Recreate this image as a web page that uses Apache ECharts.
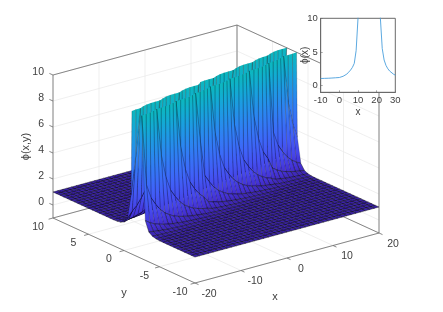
<!DOCTYPE html>
<html><head><meta charset="utf-8">
<style>html,body{margin:0;padding:0;background:#fff}#c{width:443px;height:312px}</style>
<script src="https://cdn.jsdelivr.net/npm/echarts@6/dist/echarts.min.js"></script>
</head><body><div id="c"></div>
<script>
// ---- data ----
const xTicks = [-20,-10,0,10,20];
const yTicks = [-10,-5,0,5,10];
const zTicks = [0,2,4,6,8,10];
// centre line of the ridge: y position for each x = -20 ... 20
const ridgeY = [-1.85,-1.74,-1.64,-1.53,-1.43,-1.32,-1.21,-1.11,-1.00,-0.90,-0.79,-0.68,-0.58,-0.47,-0.37,-0.26,-0.15,-0.05,0.06,0.16,0.27,0.38,0.48,0.59,0.69,0.80,0.91,1.01,1.12,1.22,1.33,1.44,1.54,1.65,1.75,1.86,1.97,2.07,2.18,2.28,2.39];
// phi height against distance from the ridge line, in steps of 0.1
const phiByOffset = [400,400,280,80,32,16,10,6.4,4.6,3.5,2.9,2.4,2.05,1.8,1.6,1.48,1.38,1.3,1.24,1.19,1.15,1.12,1.1,1.08,1.06,1.05,1.04,1.03,1.02,1.01,1.0];
const insetX = [-10,-8,-6,-4,-2,0,1,2,3,4,5,6,7,8,9,10,10.6,21.4,22,23,24,25,26,27,28,29,30];
const insetPhi = [1.05,1.07,1.09,1.12,1.16,1.2,1.28,1.38,1.5,1.7,2.0,2.3,2.7,3.3,5.2,10,14,14,10,5.5,3.8,3.0,2.5,2.15,1.9,1.7,1.55];

// ---- 3D view (orthographic, fitted to the box corners) ----
const P = (x,y,z)=>[53+(x+20)*4.6+(10-y)*7.1, 218-(x+20)*1.25+(10-y)*3.25-(z+1)*13];
const ZMIN=-1, ZMAX=10;
const TXT='#404040', FONT='"Liberation Sans",Arial,sans-serif';

// ---- surface table ----
const yGrid=[]; for(let j=0;j<=40;j++) yGrid.push(-10+j*0.5);
const xGrid=ridgeY.map((_,i)=>-20+i);
const Z=xGrid.map((_,i)=>yGrid.map(y=>{
  const k=Math.round(Math.abs(y-ridgeY[i])*10);
  return k<phiByOffset.length?phiByOffset[k]:phiByOffset[phiByOffset.length-1];
}));
// painter's order: far cells first
const cells=[];
for(let j=yGrid.length-2;j>=0;j--) for(let i=xGrid.length-2;i>=0;i--) cells.push([i,j]);

// colour map, by height
const cmap=[[1,'#3a22a6'],[1.5,'#4430d2'],[2.5,'#4648ee'],[4,'#4062f9'],[6,'#2f80f4'],[8,'#1a9fe0'],[9,'#10aed0'],[10,'#0cb8bd']];
function hex2(c){return [1,3,5].map(k=>parseInt(c.substr(k,2),16));}
function colorAt(z){
  const p=Math.max(cmap[0][0],Math.min(cmap[cmap.length-1][0],z));
  for(let k=1;k<cmap.length;k++) if(p<=cmap[k][0]){
    const t=(p-cmap[k-1][0])/(cmap[k][0]-cmap[k-1][0]);
    const a=hex2(cmap[k-1][1]),b=hex2(cmap[k][1]);
    return 'rgb('+a.map((v,n)=>Math.round(v+(b[n]-v)*t)).join(',')+')';
  }
  return cmap[cmap.length-1][1];
}
function clipPoly(pts){
  const out=[];
  for(let n=0;n<pts.length;n++){
    const a=pts[n],b=pts[(n+1)%pts.length];
    if(a[2]<=ZMAX) out.push(a);
    if((a[2]<=ZMAX)!==(b[2]<=ZMAX)){
      const t=(ZMAX-a[2])/(b[2]-a[2]);
      out.push([a[0]+(b[0]-a[0])*t,a[1]+(b[1]-a[1])*t,ZMAX]);
    }
  }
  return out;
}
function clipSeg(a,b){
  if(a[2]>ZMAX&&b[2]>ZMAX) return null;
  if(a[2]<=ZMAX&&b[2]<=ZMAX) return [a,b];
  const t=(ZMAX-a[2])/(b[2]-a[2]);
  const m=[a[0]+(b[0]-a[0])*t,a[1]+(b[1]-a[1])*t,ZMAX];
  return a[2]<=ZMAX?[a,m]:[m,b];
}
const EDGE={stroke:'#000',lineWidth:.45,opacity:.85};
const EDGE_STEEP={stroke:'#000',lineWidth:.4,opacity:.5};
function renderCell(params,api){
  const i=api.value(0),j=api.value(1);
  const q=[[xGrid[i],yGrid[j],Z[i][j]],[xGrid[i+1],yGrid[j],Z[i+1][j]],[xGrid[i+1],yGrid[j+1],Z[i+1][j+1]],[xGrid[i],yGrid[j+1],Z[i][j+1]]];
  const poly=clipPoly(q);
  if(poly.length<3) return null;
  const zs=poly.map(p=>p[2]);
  const lo=Math.min(...zs),hi=Math.max(...zs);
  const pp=poly.map(p=>P(p[0],p[1],p[2]));
  let fill=colorAt((lo+hi)/2);
  if(hi-lo>.3){
    const ylo=Math.max(...pp.map(p=>p[1])),yhi=Math.min(...pp.map(p=>p[1]));
    const stops=[];for(let s=0;s<=6;s++){stops.push({offset:s/6,color:colorAt(lo+(hi-lo)*s/6)});}
    fill=new echarts.graphic.LinearGradient(0,ylo,0,yhi,stops,true);
  }
  const children=[{type:'polygon',shape:{points:pp},style:{fill:fill,stroke:null}}];
  for(let n=0;n<4;n++){
    const seg=clipSeg(q[n],q[(n+1)%4]);
    if(!seg) continue;
    const a=P(...seg[0]),b=P(...seg[1]);
    const steep=Math.abs(seg[0][2]-seg[1][2])>1;
    children.push({type:'line',shape:{x1:a[0],y1:a[1],x2:b[0],y2:b[1]},style:steep?EDGE_STEEP:EDGE});
  }
  return {type:'group',children:children};
}
// ---- box, grid lines and ticks ----
const GRID='#e8e8e8', AX='#6a6a6a';
const lines=[];
const L=(a,b,c)=>lines.push({a:a,b:b,c:c});
xTicks.forEach(x=>{ L([x,10,ZMIN],[x,10,ZMAX],GRID); L([x,-10,ZMIN],[x,10,ZMIN],GRID); });
yTicks.forEach(y=>{ L([20,y,ZMIN],[20,y,ZMAX],GRID); L([-20,y,ZMIN],[20,y,ZMIN],GRID); });
zTicks.forEach(z=>{ L([-20,10,z],[20,10,z],GRID); L([20,10,z],[20,-10,z],GRID); });
[[[-20,10,ZMAX],[20,10,ZMAX]],[[20,10,ZMAX],[20,-10,ZMAX]],[[20,10,ZMAX],[20,10,ZMIN]],
 [[-20,10,ZMAX],[-20,10,ZMIN]],[[20,-10,ZMAX],[20,-10,ZMIN]],
 [[-20,10,ZMIN],[20,10,ZMIN]],[[20,10,ZMIN],[20,-10,ZMIN]],
 [[-20,10,ZMIN],[-20,-10,ZMIN]],[[-20,-10,ZMIN],[20,-10,ZMIN]]].forEach(e=>L(e[0],e[1],AX));
const ticks=[];
xTicks.forEach(x=>ticks.push([P(x,-10,ZMIN),[3.5,1.6]]));
yTicks.forEach(y=>ticks.push([P(-20,y,ZMIN),[-4.4,1.2]]));
zTicks.forEach(z=>ticks.push([P(-20,10,z),[-3.6,-1.6]]));

const labels=[];
xTicks.forEach(x=>{const p=P(x,-10,ZMIN);labels.push({t:String(x),x:p[0]+14,y:p[1]+11});});
yTicks.forEach(y=>{const p=P(-20,y,ZMIN);labels.push({t:String(y),x:p[0]-15,y:p[1]+9});});
zTicks.forEach(z=>{const p=P(-20,10,z);labels.push({t:String(z),x:p[0]-9,y:p[1]-3,al:'right'});});
{const p=P(0,-10,ZMIN);labels.push({t:'x',x:p[0]-12,y:p[1]+39,fs:11});}
{const p=P(-20,0,ZMIN);labels.push({t:'y',x:p[0],y:p[1]+42.5,fs:11});}
{const p=P(-20,10,4.5);labels.push({t:'\u03d5(x,y)',x:p[0]-27,y:p[1],fs:11,rot:Math.PI/2});}

const chart=echarts.init(document.getElementById('c'),null,{renderer:'canvas',width:443,height:312});
chart.setOption({
  animation:false,
  backgroundColor:'#fff',
  grid:{show:true,left:320.7,top:18.3,width:74.6,height:74,backgroundColor:'#fff',borderColor:AX,borderWidth:1,z:10},
  xAxis:{type:'value',min:-10,max:30,interval:10,z:12,name:'x',nameLocation:'middle',nameGap:15,nameMoveOverlap:false,
    nameTextStyle:{color:TXT,fontSize:10,fontFamily:FONT},
    axisLine:{onZero:false,lineStyle:{color:AX,width:1}},axisTick:{inside:true,length:2,lineStyle:{color:AX,width:.6}},
    axisLabel:{color:TXT,fontSize:9.5,fontFamily:FONT,margin:3,hideOverlap:false,showMinLabel:true,showMaxLabel:true},splitLine:{show:false}},
  yAxis:{type:'value',min:-1,max:10,z:12,name:'\u03d5(x)',nameLocation:'middle',nameGap:10,nameMoveOverlap:false,
    nameTextStyle:{color:TXT,fontSize:10,fontFamily:FONT},
    axisLine:{onZero:false,lineStyle:{color:AX,width:1}},
    axisTick:{inside:true,length:2,customValues:[0,5,10],lineStyle:{color:AX,width:.6}},
    axisLabel:{color:TXT,fontSize:9.5,fontFamily:FONT,margin:3,customValues:[0,5,10]},splitLine:{show:false}},
  series:[
    {type:'custom',coordinateSystem:'none',z:1,silent:true,clip:false,data:lines.map((_,k)=>[k]),
      renderItem:(pa,api)=>{const l=lines[api.value(0)],a=P(...l.a),b=P(...l.b);
        return {type:'line',shape:{x1:a[0],y1:a[1],x2:b[0],y2:b[1]},style:{stroke:l.c,lineWidth:l.c===GRID?.7:.8}};}},
    {type:'custom',coordinateSystem:'none',z:1,silent:true,data:ticks.map((_,k)=>[k]),
      renderItem:(pa,api)=>{const t=ticks[api.value(0)];
        return {type:'line',shape:{x1:t[0][0],y1:t[0][1],x2:t[0][0]+t[1][0],y2:t[0][1]+t[1][1]},style:{stroke:AX,lineWidth:.8}};}},
    {type:'custom',coordinateSystem:'none',z:2,silent:true,progressive:0,large:false,data:cells,renderItem:renderCell},
    {type:'custom',coordinateSystem:'none',z:3,silent:true,data:labels.map((_,k)=>[k]),
      renderItem:(pa,api)=>{const l=labels[api.value(0)];
        return {type:'text',x:l.x,y:l.y,rotation:l.rot||0,style:{text:l.t,x:0,y:0,align:l.al||'center',verticalAlign:'middle',fill:TXT,fontSize:l.fs||10.5,fontFamily:FONT}};}},
    {type:'line',z:14,silent:true,symbol:'none',clip:true,data:insetX.map((x,k)=>[x,insetPhi[k]]),lineStyle:{color:'#4a9fdc',width:.9}}
  ]
});
</script></body></html>
